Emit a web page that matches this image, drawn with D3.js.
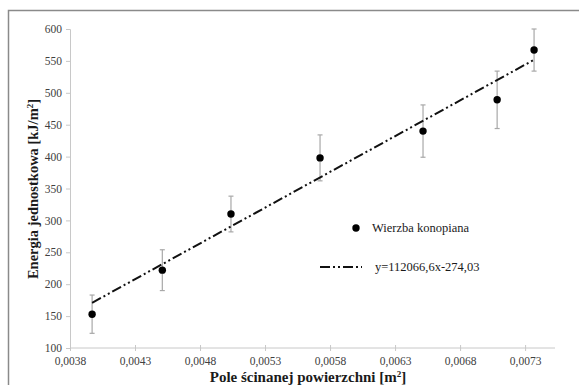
<!DOCTYPE html>
<html>
<head>
<meta charset="utf-8">
<script src="https://cdn.jsdelivr.net/npm/d3@7"></script>
<style>
  body { margin: 0; background: #fff; }
  svg { display: block; font-family: "Liberation Serif", "Times New Roman", serif; }
</style>
</head>
<body>
<div id="app"></div>
<script>
// measured points (pole, energia) with error bars
const pole = [0.00397, 0.00451, 0.005038, 0.005723, 0.006515, 0.007085, 0.007369]
const energia = [153, 222, 310, 398, 440, 489, 567]
const blad = [30, 32, 28, 36, 41, 45, 33]
const yTicks = [100, 150, 200, 250, 300, 350, 400, 450, 500, 550, 600]
const xTicks = [0.0038, 0.0043, 0.0048, 0.0053, 0.0058, 0.0063, 0.0068, 0.0073]
const trend = { a: 112066.6, b: -274.03 }

const W = 579, H = 385
const serif = "Liberation Serif, Times New Roman, serif"

const svg = d3.select("#app")
  .append("svg")
    .attr("width", W)
    .attr("height", H)

// outer frame (only top/left visible in the crop)
svg.append("rect")
    .attr("x", 8.5).attr("y", 10.5)
    .attr("width", W + 20).attr("height", H + 20)
    .attr("fill", "none")
    .attr("stroke", "#8a8a8a")
    .attr("stroke-width", 1.5)

const x = d3.scaleLinear().domain([0.0038, 0.00753]).range([70, 555])
const y = d3.scaleLinear().domain([100, 600]).range([348, 29])

const fmt = d => d3.format(".4f")(d).replace(".", ",")

// y axis
const gy = svg.append("g").attr("transform", "translate(70,0)")
  .call(d3.axisLeft(y).tickValues(yTicks).tickSize(4).tickPadding(4))
  .attr("font-family", serif).attr("font-size", 11.5)
gy.select(".domain").attr("stroke", "#c8c8c8")
gy.selectAll(".tick line").attr("stroke", "#c8c8c8")
gy.selectAll(".tick text").attr("fill", "#404040")

// x axis
const gx = svg.append("g").attr("transform", "translate(0,348)")
  .call(d3.axisBottom(x).tickValues(xTicks).tickSize(3).tickPadding(6).tickFormat(fmt))
  .attr("font-family", serif).attr("font-size", 11.5)
gx.select(".domain").attr("stroke", "#c8c8c8").attr("d", `M70,0H555`)
gx.selectAll(".tick line").attr("stroke", "#c8c8c8").attr("y1", -3)
gx.selectAll(".tick text").attr("fill", "#404040")

// axis titles
svg.append("text")
    .attr("x", 308).attr("y", 382)
    .attr("text-anchor", "middle")
    .attr("font-weight", "bold")
    .attr("font-size", 15)
    .attr("fill", "#1a1a1a")
    .html('Pole ścinanej powierzchni [m<tspan baseline-shift="super" font-size="9">2</tspan>]')

svg.append("text")
    .attr("transform", "translate(38,189) rotate(-90)")
    .attr("text-anchor", "middle")
    .attr("font-weight", "bold")
    .attr("font-size", 14.5)
    .attr("fill", "#1a1a1a")
    .html('Energia jednostkowa [kJ/m<tspan baseline-shift="super" font-size="9">2</tspan>]')

const pts = pole.map((p, i) => ({ p, e: energia[i], err: blad[i] }))

// error bars
const eb = svg.append("g").attr("stroke", "#a8a8a8").attr("stroke-width", 1.2)
eb.selectAll("line.v").data(pts).join("line").attr("class", "v")
    .attr("x1", d => x(d.p)).attr("x2", d => x(d.p))
    .attr("y1", d => y(d.e + d.err)).attr("y2", d => y(d.e - d.err))
eb.selectAll("line.t").data(pts).join("line").attr("class", "t")
    .attr("x1", d => x(d.p) - 2.5).attr("x2", d => x(d.p) + 2.5)
    .attr("y1", d => y(d.e + d.err)).attr("y2", d => y(d.e + d.err))
eb.selectAll("line.b").data(pts).join("line").attr("class", "b")
    .attr("x1", d => x(d.p) - 2.5).attr("x2", d => x(d.p) + 2.5)
    .attr("y1", d => y(d.e - d.err)).attr("y2", d => y(d.e - d.err))

// trend line
const x0 = d3.min(pole), x1 = d3.max(pole)
const dash = "10,3,2,3,2,3"
svg.append("line")
    .attr("x1", x(x0)).attr("y1", y(trend.a * x0 + trend.b))
    .attr("x2", x(x1)).attr("y2", y(trend.a * x1 + trend.b))
    .attr("stroke", "#111")
    .attr("stroke-width", 2)
    .attr("stroke-dasharray", dash)

// points
svg.append("g")
  .selectAll("circle")
  .data(pts)
  .join("circle")
    .attr("cx", d => x(d.p))
    .attr("cy", d => y(d.e))
    .attr("r", 3.7)
    .attr("fill", "#000")

// legend
const lg = svg.append("g").attr("font-family", serif)
lg.append("circle").attr("cx", 356).attr("cy", 228).attr("r", 3.7).attr("fill", "#000")
lg.append("text").attr("x", 372).attr("y", 232)
    .attr("font-size", 12.5).attr("fill", "#1a1a1a")
    .text("Wierzba konopiana")
lg.append("line").attr("x1", 320).attr("x2", 362).attr("y1", 267).attr("y2", 267)
    .attr("stroke", "#111").attr("stroke-width", 2).attr("stroke-dasharray", dash)
lg.append("text").attr("x", 375).attr("y", 271)
    .attr("font-size", 12.5).attr("fill", "#1a1a1a")
    .text("y=112066,6x-274,03")
</script>
</body>
</html>
